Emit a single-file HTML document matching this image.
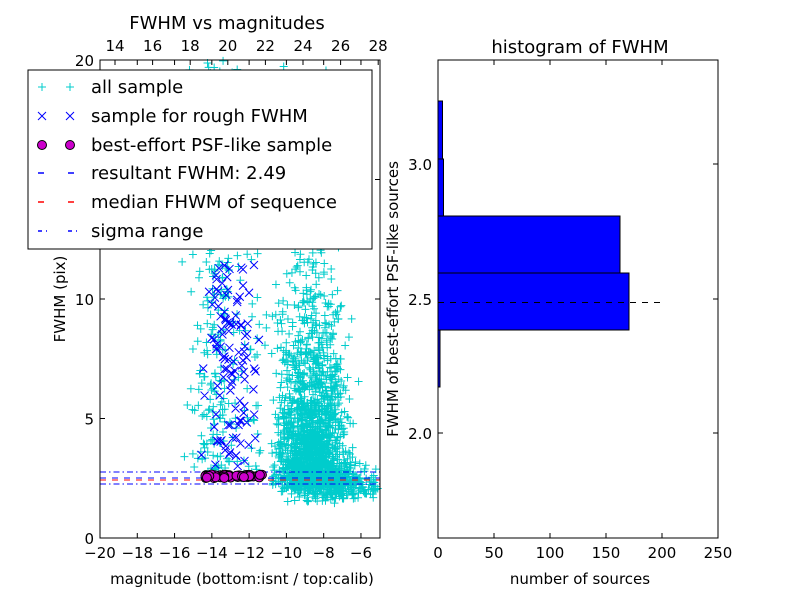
<!DOCTYPE html>
<html><head><meta charset="utf-8"><style>
body{margin:0;background:#fff;}
svg{display:block;font-family:"DejaVu Sans","Liberation Sans",sans-serif;}
</style></head><body>
<svg id="s" width="800" height="600" viewBox="0 0 800 600" xmlns="http://www.w3.org/2000/svg">
<rect width="800" height="600" fill="#fff"/>
<g id="pts"></g>
<line x1="100" y1="472" x2="380" y2="472" stroke="#00f" stroke-dasharray="6,3,1.5,3"/>
<line x1="100" y1="484" x2="380" y2="484" stroke="#00f" stroke-dasharray="6,3,1.5,3"/>
<line x1="100" y1="478" x2="380" y2="478" stroke="#00f" stroke-dasharray="6,6"/>
<line x1="100" y1="480" x2="380" y2="480" stroke="#f00" stroke-dasharray="6,6"/>
<g id="circ"></g>
<rect x="100" y="60" width="280" height="478" fill="none" stroke="#000"/>
<g id="ticks" font-size="15"></g>
<text x="227" y="29" font-size="18" text-anchor="middle">FWHM vs magnitudes</text>
<text x="242" y="584" font-size="15" text-anchor="middle">magnitude (bottom:isnt / top:calib)</text>
<text transform="translate(65,299) rotate(-90)" font-size="15" text-anchor="middle">FWHM (pix)</text>
<rect x="28" y="70" width="344" height="179" fill="#fff" stroke="#000"/>
<g font-size="18">
<text x="91" y="93">all sample</text>
<text x="91" y="122">sample for rough FWHM</text>
<text x="91" y="151">best-effort PSF-like sample</text>
<text x="91" y="179">resultant FWHM: 2.49</text>
<text x="91" y="208">median FHWM of sequence</text>
<text x="91" y="237">sigma range</text>
</g>
<g stroke-width="1">
<path d="M38 87h8M42 83v8M66 87h8M70 83v8" stroke="#0cc"/>
<path d="M38 112l8 8M46 112l-8 8M66 112l8 8M74 112l-8 8" stroke="#00f"/>
<circle cx="42" cy="145" r="4.5" fill="#c0c" stroke="#000"/><circle cx="70" cy="145" r="4.5" fill="#c0c" stroke="#000"/>
<path d="M38 173h6M68 173h6" stroke="#00f" stroke-width="1.5"/>
<path d="M38 202h6M68 202h6" stroke="#f00" stroke-width="1.5"/>
<path d="M38 231h4M46 231h1M68 231h4M76 231h1" stroke="#00f" stroke-width="1.5"/>
</g>
<g fill="#00f" stroke="#000">
<rect x="438" y="101" width="4.5" height="58"/>
<rect x="438" y="159" width="5.5" height="57"/>
<rect x="438" y="216" width="182" height="57"/>
<rect x="438" y="273" width="191" height="57"/>
<rect x="438" y="330" width="2" height="57"/>
</g>
<line x1="438" y1="302.5" x2="664" y2="302.5" stroke="#000" stroke-dasharray="6,6"/>
<rect x="438" y="60" width="280" height="478" fill="none" stroke="#000"/>
<text x="580" y="53" font-size="18" text-anchor="middle">histogram of FWHM</text>
<text x="580" y="584" font-size="15" text-anchor="middle">number of sources</text>
<text transform="translate(398,299) rotate(-90)" font-size="15" text-anchor="middle">FWHM of best-effort PSF-like sources</text>
</svg>
<script>
var ns="http://www.w3.org/2000/svg",g=document.getElementById('pts'),t=document.getElementById('ticks'),cg=document.getElementById('circ');
function el(p,n,a,txt){var e=document.createElementNS(ns,n);for(var k in a)e.setAttribute(k,a[k]);if(txt!=null)e.textContent=txt;p.appendChild(e);return e;}
var seed=7;function r(){seed=(seed*16807)%2147483647;return seed/2147483647;}
function gn(){return (r()+r()+r()+r()-2)*1.7;}
function X(m){return 100+(m+20)*18.64;}function Y(f){return 538-f*23.9;}
var c="",b="";
function plus(x,y){if(x<100||x>380||y<60||y>538)return;c+="M"+(x-4)+" "+y+"h8M"+x+" "+(y-4)+"v8";}
// sparse column
for(var i=0;i<300;i++){plus(X(-13.8+gn()*0.6),Y(2.5+Math.pow(r(),1.2)*17.5));}
for(var i=0;i<80;i++){plus(X(-12+gn()*0.6),Y(2.5+r()*17));}
// dense cluster
for(var i=0;i<1600;i++){var m=-8.6+gn()*0.9;var f=2.2-Math.log(r())*2.6;if(f>20)continue;plus(X(m),Y(f+gn()*0.3));}
for(var i=0;i<350;i++){var m=-7.5+gn()*1.3;plus(X(m),Y(2.3+gn()*0.35));}
for(var i=0;i<120;i++){plus(X(-10.5+r()*3.5),Y(2+r()*18));}
el(g,'path',{d:c,stroke:'#0cc','stroke-width':1,fill:'none'});
for(var i=0;i<110;i++){var x=X(-13+gn()*0.7),y=Y(3+r()*8.5);b+="M"+(x-4)+" "+(y-4)+"l8 8M"+(x+4)+" "+(y-4)+"l-8 8";}
el(g,'path',{d:b,stroke:'#00f','stroke-width':1,fill:'none'});
for(var i=0;i<60;i++){el(cg,'circle',{cx:X(-14.4+r()*3.1),cy:Y(2.6+gn()*0.04),r:4.5,fill:'#c0c',stroke:'#000'});}
for(var v=-20;v<=-6;v+=2){var x=X(v);el(t,'path',{d:"M"+x+" 538v-5M"+x+" 60v5",stroke:'#000'});el(t,'text',{x:x,y:558,'text-anchor':'middle'},"\u2212"+(-v));}
for(var v=14;v<=28;v+=2){var x=115+(v-14)*18.8;el(t,'path',{d:"M"+x+" 60v5",stroke:'#000'});el(t,'text',{x:x,y:51,'text-anchor':'middle'},v);}
for(var v=0;v<=20;v+=5){var y=Y(v);el(t,'path',{d:"M100 "+y+"h5M380 "+y+"h-5",stroke:'#000'});el(t,'text',{x:94,y:y+6,'text-anchor':'end'},v);}
for(var v=0;v<=250;v+=50){var x=438+v*1.12;el(t,'path',{d:"M"+x+" 538v-5M"+x+" 60v5",stroke:'#000'});el(t,'text',{x:x,y:558,'text-anchor':'middle'},v);}
[[3.0,164],[2.5,299],[2.0,433]].forEach(function(a){el(t,'path',{d:"M438 "+a[1]+"h5M718 "+a[1]+"h-5",stroke:'#000'});el(t,'text',{x:432,y:a[1]+6,'text-anchor':'end'},a[0].toFixed(1));});
</script>
</body></html>
